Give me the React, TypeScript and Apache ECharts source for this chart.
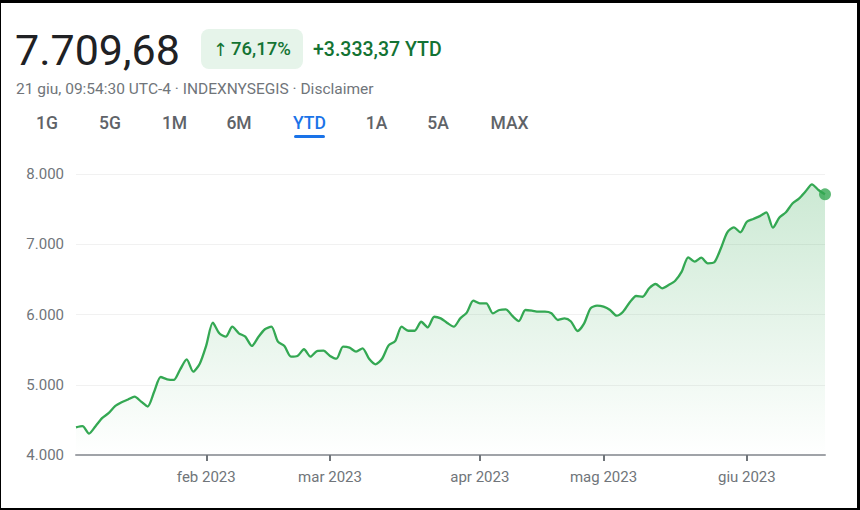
import React, { useEffect, useRef } from 'react';
import * as echarts from 'echarts';

const monthNames = ['gen', 'feb', 'mar', 'apr', 'mag', 'giu'];
const janDays = [3, 4, 5, 6, 9, 10, 11, 12, 13, 17, 18, 19, 20, 23, 24, 25, 26, 27, 30, 31];
const febDays = [1, 2, 3, 6, 7, 8, 9, 10, 13, 14, 15, 16, 17, 21, 22, 23, 24, 27, 28];
const marDays = [1, 2, 3, 6, 7, 8, 9, 10, 13, 14, 15, 16, 17, 20, 21, 22, 23, 24, 27, 28, 29, 30, 31];
const aprDays = [3, 4, 5, 6, 10, 11, 12, 13, 14, 17, 18, 19, 20, 21, 24, 25, 26, 27, 28];
const mayDays = [1, 2, 3, 4, 5, 8, 9, 10, 11, 12, 15, 16, 17, 18, 19, 22, 23, 24, 25, 26, 30, 31];
const junDays = [1, 2, 5, 6, 7, 8, 9, 12, 13, 14, 15, 16, 21];

const janValues = [4394, 4410, 4305, 4410, 4525, 4595, 4695, 4750, 4790, 4830, 4760, 4690, 4900, 5110, 5077, 5068, 5220, 5360, 5186, 5300];
const febValues = [5560, 5883, 5732, 5684, 5826, 5732, 5684, 5552, 5680, 5790, 5826, 5613, 5550, 5400, 5409, 5505, 5400, 5480, 5485];
const marValues = [5410, 5371, 5542, 5528, 5471, 5519, 5370, 5291, 5370, 5560, 5620, 5826, 5769, 5769, 5897, 5817, 5968, 5945, 5880, 5826, 5945, 6026, 6197];
const aprValues = [6159, 6159, 6017, 6064, 6074, 5979, 5907, 6064, 6055, 6040, 6040, 6017, 5922, 5945, 5900, 5765, 5870, 6088, 6125];
const mayValues = [6111, 6064, 5983, 6040, 6170, 6263, 6253, 6373, 6434, 6373, 6420, 6481, 6610, 6814, 6752, 6809, 6729, 6743, 6940, 7170, 7241, 7170];
const junValues = [7320, 7360, 7400, 7454, 7236, 7380, 7455, 7580, 7650, 7750, 7853, 7772, 7710];

const yMin = 4000;
const yMax = 8000;
const yStep = 1000;

const priceText = '7.709,68';
const changePctText = '76,17%';
const changeAbsText = '+3.333,37 YTD';
const infoText = '21 giu, 09:54:30 UTC-4 · INDEXNYSEGIS · Disclaimer';
const tabs = ['1G', '5G', '1M', '6M', 'YTD', '1A', '5A', 'MAX'];
const activeTab = 'YTD';

export default function App() {
  const ref = useRef<HTMLDivElement>(null);

  useEffect(() => {
    const monthDays = [janDays, febDays, marDays, aprDays, mayDays, junDays];
    const monthValues = [janValues, febValues, marValues, aprValues, mayValues, junValues];
    const categories: string[] = [];
    const values: number[] = [];
    const monthStart = new Set<number>();
    monthDays.forEach((days, m) => {
      if (m > 0) monthStart.add(categories.length);
      days.forEach((d, k) => {
        categories.push(`${d} ${monthNames[m]} 2023`);
        values.push(monthValues[m][k]);
      });
    });
    const last = values.length - 1;

    const chart = echarts.init(ref.current!, null, { renderer: 'svg' });
    const font = 'Roboto, Arial, sans-serif';
    const tabCenters = [47, 110, 174.5, 239, 309.5, 376.5, 438, 509.5];

    const graphic: any[] = [
      {
        type: 'text', x: 15, y: 50,
        style: { text: priceText, fontSize: 43, fontFamily: font, fill: '#202124', verticalAlign: 'middle' },
      },
      {
        type: 'rect', shape: { x: 201, y: 29, width: 102, height: 40, r: 8 },
        style: { fill: '#e6f4ea' },
      },
      {
        type: 'text', x: 213, y: 49,
        style: { text: '↑', fontSize: 18, fontFamily: 'DejaVu Sans, sans-serif', fill: '#137333', verticalAlign: 'middle' },
      },
      {
        type: 'text', x: 231, y: 49,
        style: { text: changePctText, fontSize: 18.5, fontWeight: 500, fontFamily: font, fill: '#137333', verticalAlign: 'middle' },
      },
      {
        type: 'text', x: 313, y: 49,
        style: { text: changeAbsText, fontSize: 19.5, fontWeight: 500, fontFamily: font, fill: '#137333', verticalAlign: 'middle' },
      },
      {
        type: 'text', x: 16, y: 89,
        style: { text: infoText, fontSize: 15.5, fontFamily: font, fill: '#70757a', verticalAlign: 'middle' },
      },
      ...tabs.map((t, i) => ({
        type: 'text', x: tabCenters[i], y: 123,
        style: {
          text: t, fontSize: 17.5, fontWeight: 500, fontFamily: font,
          fill: t === activeTab ? '#1a73e8' : '#5f6368', align: 'center', verticalAlign: 'middle',
        },
      })),
      {
        type: 'rect', shape: { x: 294, y: 135, width: 31, height: 3, r: 1.5 },
        style: { fill: '#1a73e8' },
      },
      { type: 'rect', shape: { x: 0, y: 0, width: 860, height: 3 }, style: { fill: '#000' }, z: 100 },
      { type: 'rect', shape: { x: 857, y: 0, width: 3, height: 510 }, style: { fill: '#000' }, z: 100 },
      { type: 'rect', shape: { x: 0, y: 508, width: 860, height: 2 }, style: { fill: '#000' }, z: 100 },
      { type: 'rect', shape: { x: 0, y: 0, width: 1, height: 510 }, style: { fill: '#000' }, z: 100 },
    ];

    chart.setOption({
      animation: false,
      backgroundColor: '#fff',
      textStyle: { fontFamily: font },
      grid: { left: 76, right: 35, top: 174, bottom: 55, containLabel: false },
      graphic,
      xAxis: {
        type: 'category',
        data: categories,
        boundaryGap: false,
        axisLine: { show: true, lineStyle: { color: '#a0a3a8', width: 2 } },
        axisTick: {
          show: true,
          interval: (idx: number) => monthStart.has(idx),
          length: 6,
          lineStyle: { color: '#70757a', width: 2 },
        },
        axisLabel: {
          interval: (idx: number) => monthStart.has(idx),
          formatter: (v: string) => v.split(' ').slice(1).join(' '),
          color: '#70757a',
          fontSize: 15,
          margin: 14,
          fontFamily: font,
        },
        splitLine: { show: false },
      },
      yAxis: {
        type: 'value',
        min: yMin,
        max: yMax,
        interval: yStep,
        axisLine: { show: false },
        axisTick: { show: false },
        axisLabel: {
          formatter: (v: number) => `${Math.round(v / 1000)}.000`,
          color: '#70757a',
          fontSize: 15,
          margin: 12,
          fontFamily: font,
        },
        splitLine: { lineStyle: { color: '#f1f1f1', width: 1 } },
      },
      series: [
        {
          type: 'line',
          data: values,
          smooth: 0.25,
          symbol: 'none',
          lineStyle: { color: '#34a853', width: 2.3 },
          areaStyle: {
            color: new echarts.graphic.LinearGradient(0, 0, 0, 1, [
              { offset: 0, color: 'rgba(52,168,83,0.36)' },
              { offset: 1, color: 'rgba(52,168,83,0)' },
            ]),
          },
          z: 3,
        },
        {
          type: 'scatter',
          data: [[categories[last], values[last]]],
          symbol: 'circle',
          symbolSize: 12,
          itemStyle: { color: '#34a853' },
          z: 4,
        },
      ],
    });

    return () => chart.dispose();
  }, []);

  return (
    <div
      ref={ref}
      style={{ position: 'fixed', left: 0, top: 0, width: 860, height: 510, background: '#fff' }}
    />
  );
}
